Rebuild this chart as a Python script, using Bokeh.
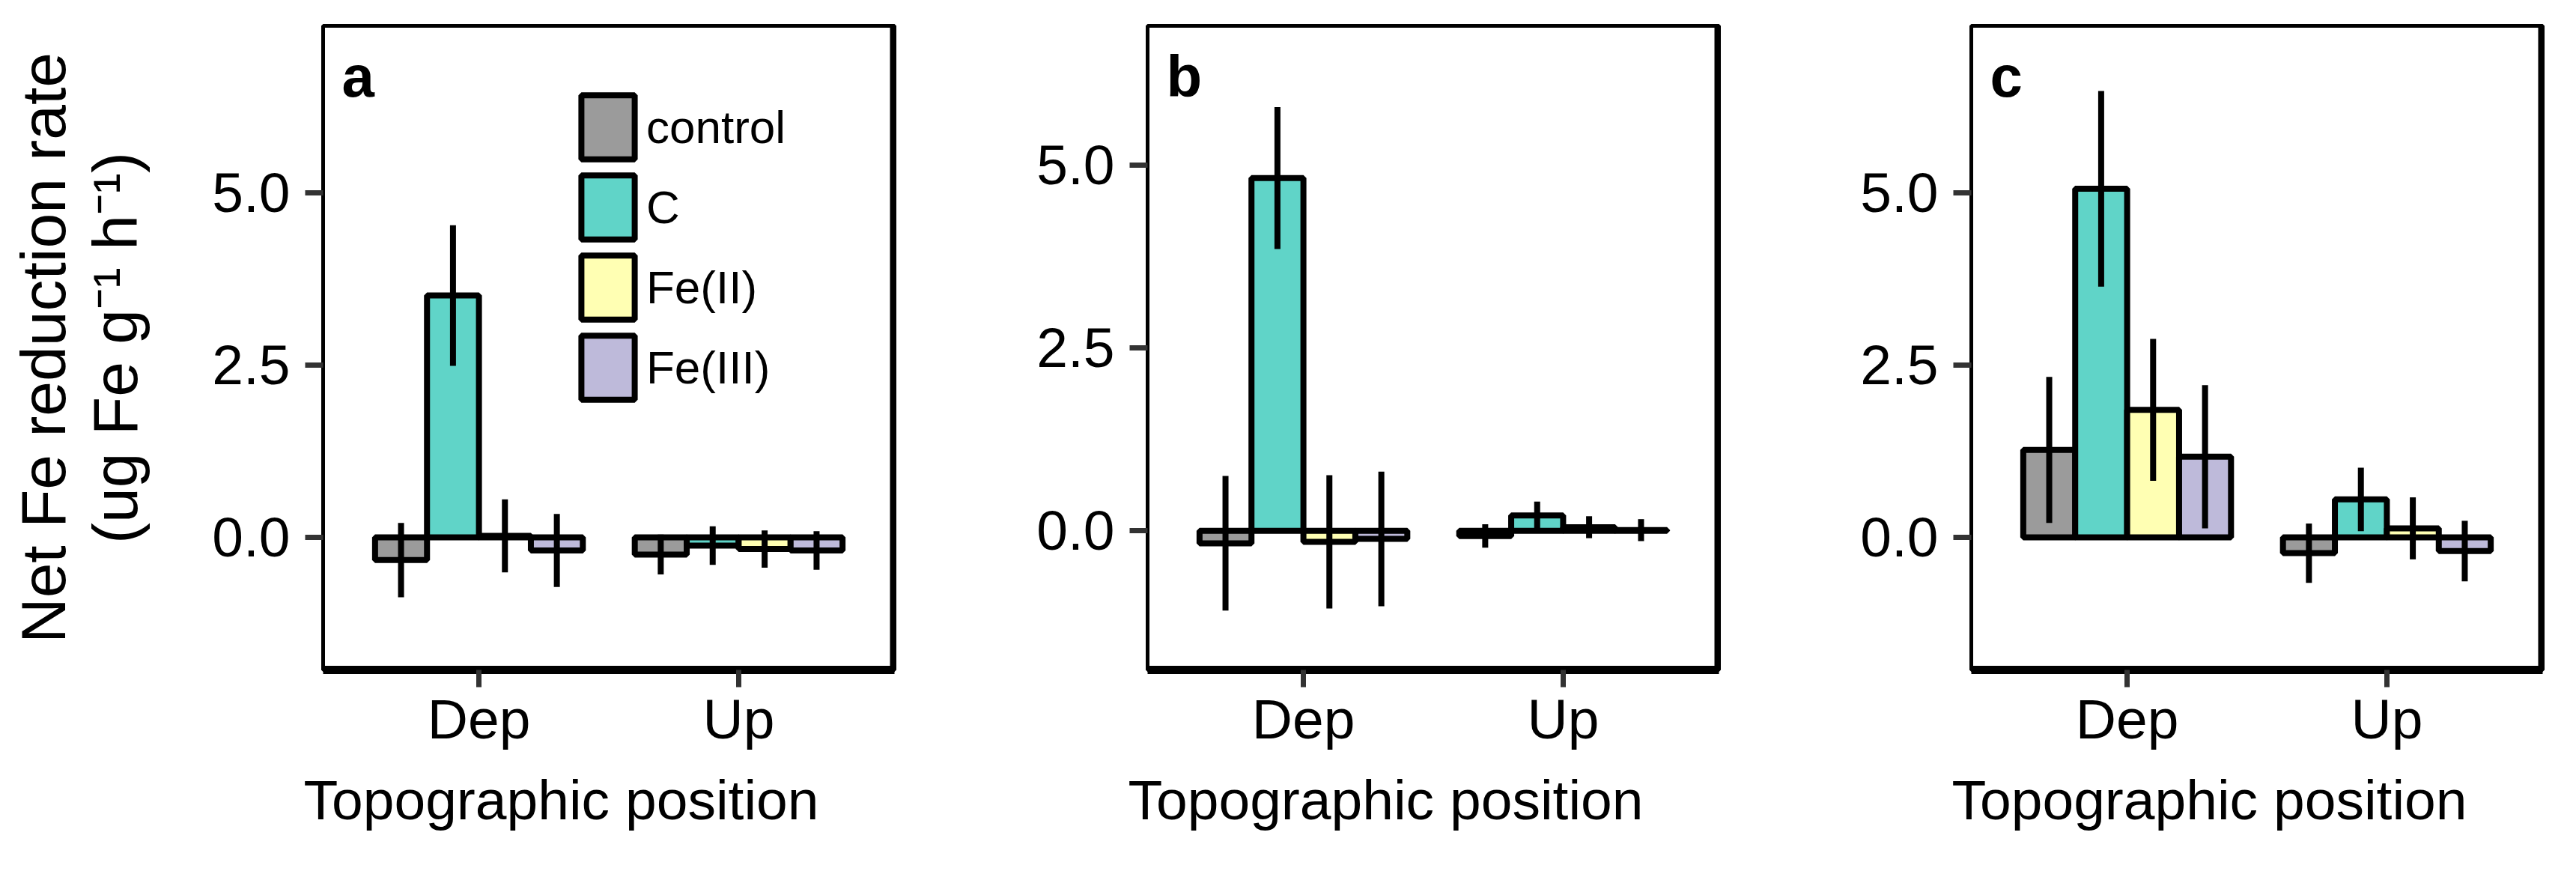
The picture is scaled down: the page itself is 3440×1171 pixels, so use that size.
import numpy as np
import pandas as pd
from bokeh.plotting import figure
from bokeh.models import (Range1d, FixedTicker, ColumnDataSource, Span, Label,
                          Legend, LegendItem, Title)
from bokeh.layouts import row
from bokeh.transform import dodge
from bokeh.embed import file_html
from bokeh.resources import INLINE

# ---------------- data ----------------
positions = ["Dep", "Up"]
treatments = ["control", "C", "Fe(II)", "Fe(III)"]
colors = ["#9B9B9B", "#60D4C8", "#FFFFB3", "#BEBADA"]
panel_tags = ["a", "b", "c"]

# values ordered: Dep (control, C, Fe(II), Fe(III)), then Up (control, C, Fe(II), Fe(III))
mean_a = [-0.33, 3.51, 0.02, -0.19, -0.25, -0.12, -0.17, -0.19]
se_a = [0.54, 1.02, 0.53, 0.53, 0.29, 0.28, 0.27, 0.28]
mean_b = [-0.17, 4.82, -0.15, -0.11, -0.07, 0.21, 0.05, 0.01]
se_b = [0.92, 0.97, 0.91, 0.92, 0.16, 0.19, 0.15, 0.15]
mean_c = [1.27, 5.06, 1.85, 1.17, -0.23, 0.55, 0.13, -0.20]
se_c = [1.06, 1.42, 1.03, 1.04, 0.43, 0.46, 0.45, 0.44]

y_limits_a = [-1.5, 7.0]
y_limits_b = [-1.5, 6.5]
y_limits_c = [-1.5, 7.0]

y_ticks = [0.0, 2.5, 5.0]
y_tick_labels = ["0.0", "2.5", "5.0"]
x_title = "Topographic position"
y_title = "Net Fe reduction rate\n(ug Fe g\u207b\u00b9 h\u207b\u00b9)"

FONT = "Liberation Sans"
BAR_W = 0.2
DODGE_W = 0.8


def make_frame(means, ses):
    pos = [p for p in positions for _ in treatments]
    trt = [t for _ in positions for t in treatments]
    df = pd.DataFrame({"pos": pos, "trt": trt, "mean": means, "se": ses})
    df["xpos"] = df["pos"].map({p: i + 1 for i, p in enumerate(positions)})
    df["lo"] = df["mean"] - df["se"]
    df["hi"] = df["mean"] + df["se"]
    df["base"] = 0.0
    return df


def make_panel(tag, means, ses, ylim, left_border, y_label=None, legend=False):
    lo, hi = ylim
    pad = 0.05 * (hi - lo)
    p = figure(frame_width=763, frame_height=860,
               min_border_left=left_border, min_border_right=20,
               min_border_top=34, min_border_bottom=250,
               x_range=Range1d(0.4, len(positions) + 0.6),
               y_range=Range1d(lo - pad, hi + pad),
               output_backend="svg", toolbar_location=None)
    p.xgrid.visible = False
    p.ygrid.visible = False
    p.background_fill_color = "white"
    p.border_fill_color = "white"
    p.outline_line_color = "black"
    p.outline_line_width = 5
    p.outline_line_alpha = 1.0

    df = make_frame(means, ses)
    n = len(treatments)
    renderers = []
    for i, t in enumerate(treatments):
        off = (i - (n - 1) / 2) * DODGE_W / n
        src = ColumnDataSource(df[df["trt"] == t])
        r = p.vbar(x=dodge("xpos", off, range=p.x_range), top="mean", bottom="base",
                   width=BAR_W, source=src, fill_color=colors[i],
                   line_color="black", line_width=8)
        renderers.append(r)
    for i, t in enumerate(treatments):
        off = (i - (n - 1) / 2) * DODGE_W / n
        src = ColumnDataSource(df[df["trt"] == t])
        p.segment(x0=dodge("xpos", off, range=p.x_range), y0="lo",
                  x1=dodge("xpos", off, range=p.x_range), y1="hi",
                  source=src, line_color="black", line_width=8)

    # thick right border
    p.add_layout(Span(location=p.x_range.end, dimension="height",
                      line_color="black", line_width=12))

    # x axis
    xa = p.xaxis[0]
    xa.ticker = FixedTicker(ticks=[i + 1 for i in range(len(positions))])
    xa.major_label_overrides = {i + 1: s for i, s in enumerate(positions)}
    xa.axis_line_width = 11
    xa.axis_line_color = "black"
    xa.major_tick_in = 0
    xa.major_tick_out = 23
    xa.major_tick_line_width = 7
    xa.major_tick_line_color = "#333333"
    xa.minor_tick_line_color = None
    xa.major_label_text_font = FONT
    xa.major_label_text_font_size = "75px"
    xa.major_label_text_color = "black"
    xa.major_label_standoff = 0

    # x-axis title, set slightly left of the panel centre as in the original
    p.add_layout(Title(text=x_title, align="left", offset=-26, standoff=38,
                       text_font=FONT, text_font_size="75px", text_font_style="normal",
                       text_color="black"), "below")

    # y axis
    ya = p.yaxis[0]
    ya.ticker = FixedTicker(ticks=y_ticks)
    ya.major_label_overrides = {v: s for v, s in zip(y_ticks, y_tick_labels)}
    ya.axis_line_width = 5
    ya.axis_line_color = "black"
    ya.major_tick_in = 0
    ya.major_tick_out = 24
    ya.major_tick_line_width = 7
    ya.major_tick_line_color = "#333333"
    ya.minor_tick_line_color = None
    ya.major_label_text_font = FONT
    ya.major_label_text_font_size = "75px"
    ya.major_label_text_color = "black"
    ya.major_label_standoff = 20
    if y_label:
        ya.axis_label = y_label
        ya.axis_label_text_font = FONT
        ya.axis_label_text_font_size = "84px"
        ya.axis_label_text_font_style = "normal"
        ya.axis_label_text_color = "black"
        ya.axis_label_text_line_height = 1.02
        ya.axis_label_standoff = 79

    # panel tag
    p.add_layout(Label(x=p.x_range.start, y=p.y_range.end, x_offset=25, y_offset=-67,
                       text=tag, text_font=FONT, text_font_style="bold",
                       text_font_size="78px", text_baseline="alphabetic",
                       text_color="black"))

    if legend:
        items = [LegendItem(label=t, renderers=[r]) for t, r in zip(treatments, renderers)]
        lg = Legend(items=items, location=(336, 350), glyph_width=89, glyph_height=107,
                    spacing=0, padding=0, margin=0, label_standoff=7,
                    label_text_font=FONT, label_text_font_size="62px",
                    label_text_baseline="alphabetic", label_text_color="black",
                    border_line_color=None, background_fill_alpha=0)
        p.add_layout(lg)
    return p


pa = make_panel(panel_tags[0], mean_a, se_a, y_limits_a, 431, y_label=y_title, legend=True)
pb = make_panel(panel_tags[1], mean_b, se_b, y_limits_b, 318)
pc = make_panel(panel_tags[2], mean_c, se_c, y_limits_c, 317)

layout = row(pa, pb, pc)
open("out.html", "w").write(file_html(layout, INLINE))
